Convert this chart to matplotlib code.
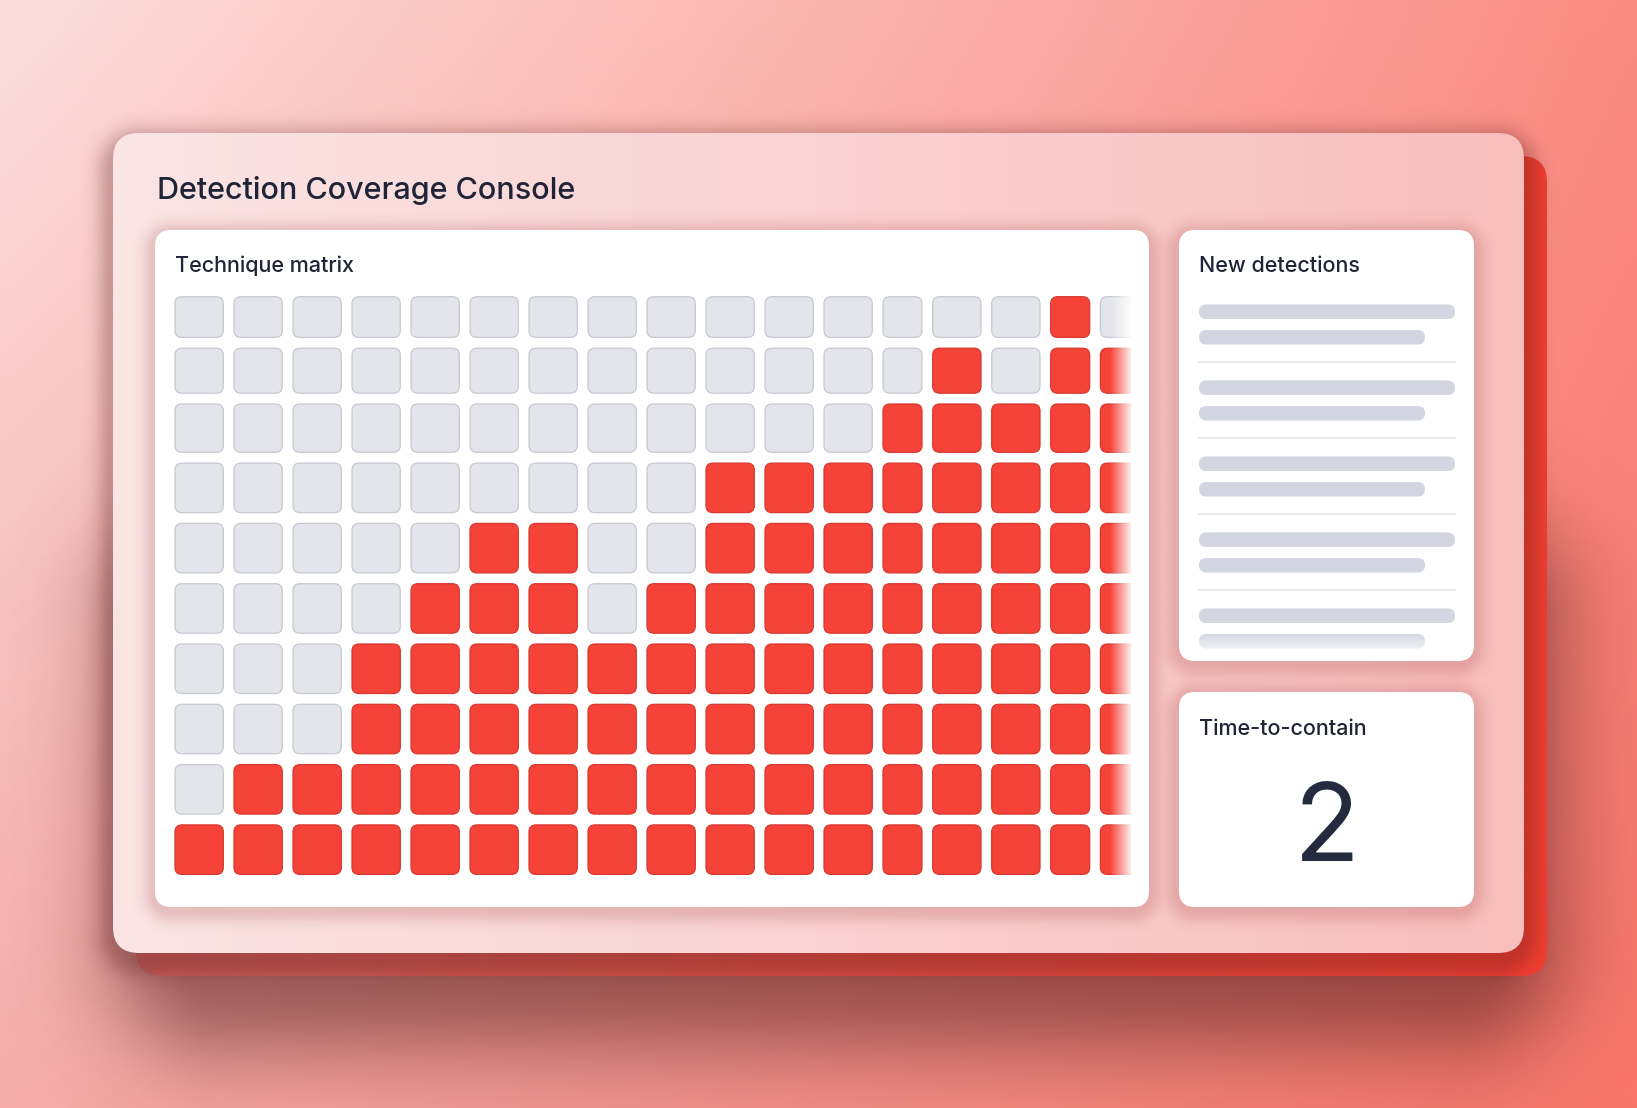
import numpy as np
import matplotlib
matplotlib.use("Agg")
import matplotlib.pyplot as plt
from matplotlib.patches import FancyBboxPatch
from matplotlib.colors import to_rgb

W, H = 1637, 1108

title = "Detection Coverage Console"
matrix_title = "Technique matrix"
list_title = "New detections"
kpi_title = "Time-to-contain"
kpi_value = "2"
n_detections = 5

# technique coverage, top row first (1 = covered / red)
coverage = [
    [0, 0, 0, 0, 0, 0, 0, 0, 0, 0, 0, 0, 0, 0, 0, 1, 0],
    [0, 0, 0, 0, 0, 0, 0, 0, 0, 0, 0, 0, 0, 1, 0, 1, 1],
    [0, 0, 0, 0, 0, 0, 0, 0, 0, 0, 0, 0, 1, 1, 1, 1, 1],
    [0, 0, 0, 0, 0, 0, 0, 0, 0, 1, 1, 1, 1, 1, 1, 1, 1],
    [0, 0, 0, 0, 0, 1, 1, 0, 0, 1, 1, 1, 1, 1, 1, 1, 1],
    [0, 0, 0, 0, 1, 1, 1, 0, 1, 1, 1, 1, 1, 1, 1, 1, 1],
    [0, 0, 0, 1, 1, 1, 1, 1, 1, 1, 1, 1, 1, 1, 1, 1, 1],
    [0, 0, 0, 1, 1, 1, 1, 1, 1, 1, 1, 1, 1, 1, 1, 1, 1],
    [0, 1, 1, 1, 1, 1, 1, 1, 1, 1, 1, 1, 1, 1, 1, 1, 1],
    [1, 1, 1, 1, 1, 1, 1, 1, 1, 1, 1, 1, 1, 1, 1, 1, 1],
]

FONT = ["Inter", "DejaVu Sans"]
INK = "#1f2436"

fig = plt.figure(figsize=(W / 100, H / 100), dpi=100)
ax = fig.add_axes([0, 0, 1, 1])
ax.axis("off")


def lerp(a, b, t):
    a, b = np.array(to_rgb(a)), np.array(to_rgb(b))
    return a + (b - a) * t[..., None]


# background: four-corner gradient
ty, tx = np.meshgrid(np.linspace(0, 1, 120), np.linspace(0, 1, 160), indexing="ij")
top = lerp("#fcdedc", "#fa8c84", tx)
bot = lerp("#f4acaa", "#f8766a", tx)
bg = top + (bot - top) * ty[..., None]
ax.imshow(bg, extent=(0, W, H, 0), aspect="auto", interpolation="bicubic", zorder=0)


def shadow(x0, y0, x1, y1, r, blur, color, alpha, z, step=3):
    ys = np.arange(0, H, step) + step / 2
    xs = np.arange(0, W, step) + step / 2
    X, Y = np.meshgrid(xs, ys)
    cx, cy = (x0 + x1) / 2, (y0 + y1) / 2
    qx = np.abs(X - cx) - ((x1 - x0) / 2 - r)
    qy = np.abs(Y - cy) - ((y1 - y0) / 2 - r)
    d = np.hypot(np.maximum(qx, 0), np.maximum(qy, 0)) + np.minimum(np.maximum(qx, qy), 0) - r
    m = np.where(d < 0, 1.0, np.exp(-(d / blur) ** 2))
    img = np.zeros(X.shape + (4,))
    img[..., :3] = to_rgb(color)
    img[..., 3] = alpha * m
    ax.imshow(img, extent=(0, W, H, 0), aspect="auto", interpolation="bilinear", zorder=z)


def card(x0, y0, x1, y1, r, z, face=None, grad=None, vertical=False):
    p = FancyBboxPatch((x0, y0), x1 - x0, y1 - y0, boxstyle=f"round,pad=0,rounding_size={r}",
                       facecolor=face if face else "none", edgecolor="none", zorder=z)
    ax.add_patch(p)
    if grad:
        t = np.linspace(0, 1, 256)
        g = lerp(grad[0], grad[1], t)
        img = g[:, None, :] if vertical else g[None, :, :]
        im = ax.imshow(img, extent=(x0, x1, y1, y0), aspect="auto", interpolation="bilinear", zorder=z)
        im.set_clip_path(p)
    return p


# outer console card with a red card behind it
fx0, fy0, fx1, fy1 = 113, 133, 1524, 953
shadow(fx0 + 70, fy0 + 450, fx1 - 30, fy1 + 30, 40, 85, "#4a1414", 0.5, 1)
card(fx0 + 23, fy0 + 23, fx1 + 23, fy1 + 23, 26, 2, grad=("#c35e5a", "#f03e31"))
shadow(fx0, fy0 + 10, fx1, fy1 + 10, 26, 16, "#5a1818", 0.3, 3)
card(fx0, fy0, fx1, fy1, 26, 4, grad=("#fbe5e5", "#f8bfbd"))
ax.text(157, 199, title, fontsize=22, fontweight="medium", color=INK, family=FONT, zorder=10)

# white panels
panels = [(155, 230, 1149, 907), (1179, 230, 1474, 661), (1179, 692, 1474, 907)]
for x0, y0, x1, y1 in panels:
    shadow(x0, y0 + 5, x1, y1 + 5, 16, 12, "#a03c3c", 0.22, 5)
    card(x0, y0, x1, y1, 16, 6, face="#ffffff")

ax.text(175, 272.5, matrix_title, fontsize=15.5, fontweight="medium", color=INK, family=FONT, zorder=10)
ax.text(1199, 272.5, list_title, fontsize=15.5, fontweight="medium", color=INK, family=FONT, zorder=10)
ax.text(1199, 735, kpi_title, fontsize=15.5, fontweight="medium", color=INK, family=FONT, zorder=10)
ax.text(1327, 861, kpi_value, fontsize=78, fontweight="normal", color="#252b3e",
        family=FONT, ha="center", zorder=10)

# technique matrix
n_rows, n_cols = len(coverage), len(coverage[0])
gap = 10.7
col_w = np.where(np.isin(np.arange(n_cols), [12, 15]), 39.0, 48.3)
col_x = 175 + np.concatenate([[0], np.cumsum(col_w + gap)[:-1]])
row_h = np.array([40.7, 45.0, 48.3] + [49.5] * (n_rows - 3))
row_y = 296.7 + np.concatenate([[0], np.cumsum(row_h + 10.8)[:-1]])

clip = FancyBboxPatch((160, 280), 1131 - 160, 600, boxstyle="square,pad=0",
                      facecolor="none", edgecolor="none", transform=ax.transData)
for r in range(n_rows):
    for c in range(n_cols):
        on = coverage[r][c] == 1
        p = FancyBboxPatch((col_x[c], row_y[r]), col_w[c], row_h[r],
                           boxstyle="round,pad=0,rounding_size=7",
                           facecolor="#f5433a" if on else "#e4e5ea",
                           edgecolor="#d8392e" if on else "#c6c9d2",
                           linewidth=0.9, zorder=7)
        ax.add_patch(p)
        p.set_clip_path(clip)

# soft fade at the right edge of the matrix
fade = np.ones((2, 64, 4))
fade[..., 3] = np.linspace(0, 1, 64)[None, :]
ax.imshow(fade, extent=(1110, 1133, 885, 285), aspect="auto", interpolation="bilinear", zorder=8)

# new detections skeleton list
for i in range(n_detections):
    yc = 311.7 + 76 * i
    card(1199, yc - 7.3, 1455, yc + 7.3, 7.3, 7, face="#d3d6e0")
    if i < n_detections - 1:
        card(1199, yc + 18.3, 1425, yc + 32.9, 7.3, 7, face="#d3d6e0")
        ax.plot([1199, 1455], [yc + 50.3, yc + 50.3], color="#e3e5ea", lw=1.3, zorder=7)
    else:
        card(1199, yc + 18.3, 1425, yc + 32.9, 7.3, 7, grad=("#d6d8e1", "#f1f2f4"), vertical=True)

ax.set_xlim(0, W)
ax.set_ylim(H, 0)
fig.savefig("out.png", dpi=100)
